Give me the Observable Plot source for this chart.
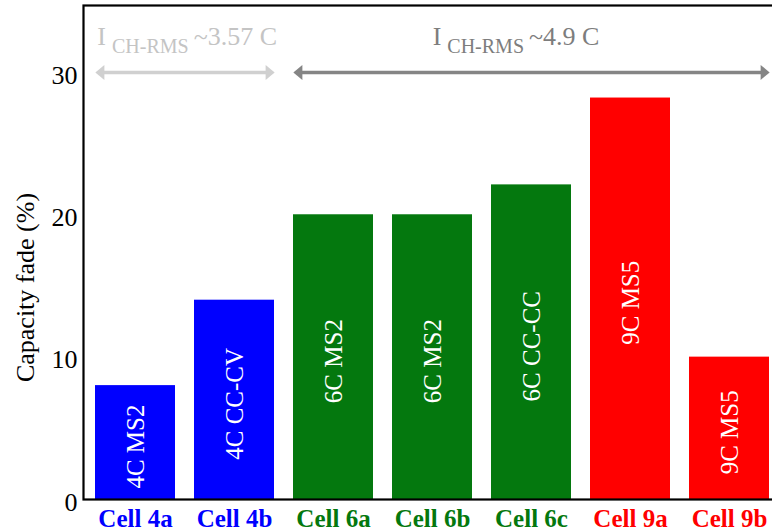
<!DOCTYPE html>
<html><head><meta charset="utf-8">
<script src="https://cdn.jsdelivr.net/npm/d3@7"></script>
<script src="https://cdn.jsdelivr.net/npm/@observablehq/plot@0.6"></script>
<style>
html,body{margin:0;padding:0;overflow:hidden;background:#fff}
</style>
</head><body><div id="chart"></div>
<script>
// ---- data ----
const cells = ["Cell 4a", "Cell 4b", "Cell 6a", "Cell 6b", "Cell 6c", "Cell 9a", "Cell 9b"];
const fade = [8.0, 14.0, 20.0, 20.0, 22.1, 28.2, 10.0];
const protocols = ["4C MS2", "4C CC-CV", "6C MS2", "6C MS2", "6C CC-CC", "9C MS5", "9C MS5"];
const groups = ["4C", "4C", "6C", "6C", "6C", "9C", "9C"];
const yTicks = [0, 10, 20, 30];
const rangeLabels = ["I CH-RMS ~3.57 C", "I CH-RMS ~4.9 C"];
const rangeFrom = ["Cell 4a", "Cell 6a"];
const rangeTo = ["Cell 4b", "Cell 9b"];

// ---- styles ----
const groupColor = {"4C": "#0000ff", "6C": "#04780e", "9C": "#ff0000"};
const rangeColor = ["#d0d0d0", "#858585"];
const rangeText = ["#c4c4c4", "#7d7d7d"];
const FONT = "'Liberation Serif', 'Times New Roman', serif";

const W = 772, H = 532;
const mL = 83, mR = -10, mT = 5, mB = 33;
const pIn = 0.19, pOut = 0.12;
const step = (W - mL - mR) / (cells.length - pIn + 2 * pOut);
const bw = step * (1 - pIn);

const bars = cells.map((c, i) => ({cell: c, fade: fade[i], protocol: protocols[i], color: groupColor[groups[i]]}));
const ranges = rangeLabels.map((l, i) => ({label: l, from: rangeFrom[i], to: rangeTo[i], color: rangeColor[i], text: rangeText[i]}));
const arrowY = 30, labelY = 31.9;

const hasAxisMark = typeof Plot.axisY === "function";
const yAxisMarks = hasAxisMark
  ? [Plot.axisY(yTicks, {tickSize: 0, tickPadding: 6, dy: 3, label: null, fontSize: 26, fontFamily: FONT, tickFormat: d => String(d)})]
  : [];

const plot = Plot.plot({
  width: W, height: H,
  marginLeft: mL, marginRight: mR, marginTop: mT, marginBottom: mB,
  style: {fontFamily: FONT, fontSize: "26px", color: "black", background: "white"},
  x: {domain: cells, paddingInner: pIn, paddingOuter: pOut, axis: null},
  y: hasAxisMark
    ? {domain: [0, 34.7], axis: null}
    : {domain: [0, 34.7], ticks: yTicks, tickSize: 0, tickPadding: 6, label: null, tickFormat: d => String(d)},
  marks: [
    ...yAxisMarks,
    Plot.barY(bars, {x: "cell", y: "fade", fill: "color"}),
    Plot.text(bars, {x: "cell", y: d => d.fade / 2, text: "protocol", rotate: -90, dy: 4, fill: "white", fontSize: 25, fontFamily: FONT}),
    Plot.text(bars, {x: "cell", text: "cell", frameAnchor: "bottom", lineAnchor: "middle", dy: 19, fill: "color", fontWeight: "bold", fontSize: 25, fontFamily: FONT}),
    Plot.frame({stroke: "black", strokeWidth: 2.2}),
    // range arrows
    Plot.ruleY(ranges, {x1: "from", x2: "to", y: () => arrowY, stroke: "color", strokeWidth: 3.5, insetLeft: 5, insetRight: 5}),
    Plot.vector(ranges, {x: "from", y: () => arrowY, dx: -bw / 2, rotate: -90, length: 9, r: 7.5, shape: "spike", anchor: "end", fill: "color", stroke: "none"}),
    Plot.vector(ranges, {x: "to", y: () => arrowY, dx: bw / 2, rotate: 90, length: 9, r: 7.5, shape: "spike", anchor: "end", fill: "color", stroke: "none"}),
    Plot.text([ranges[0]], {x: "from", y: () => labelY, text: "label", textAnchor: "start", lineAnchor: "bottom", dx: -bw / 2 + 2, fill: "text", fontSize: 26, fontFamily: FONT}),
    Plot.text([ranges[1]], {x: "from", y: () => labelY, text: "label", textAnchor: "start", lineAnchor: "bottom", dx: step, fill: "text", fontSize: 26, fontFamily: FONT}),
    // y axis title
    Plot.text(["Capacity fade (%)"], {frameAnchor: "left", text: d => d, textAnchor: "middle", rotate: -90, dx: -58, dy: 35, fontSize: 26, fontFamily: FONT, fill: "black"})
  ]
});

// subscript formatting of the range labels
d3.select(plot).selectAll("text").each(function () {
  const t = this.textContent;
  const m = /^(I) (CH-RMS) (.*)$/.exec(t);
  if (!m || this.children.length) return;
  const el = d3.select(this);
  el.text(null);
  el.append("tspan").text(m[1]);
  el.append("tspan").attr("dx", 6).attr("dy", 8).attr("font-size", 20).text(m[2]);
  el.append("tspan").attr("dx", 5).attr("dy", -8).text(m[3]);
});

document.getElementById("chart").appendChild(plot);
</script>
</body></html>
